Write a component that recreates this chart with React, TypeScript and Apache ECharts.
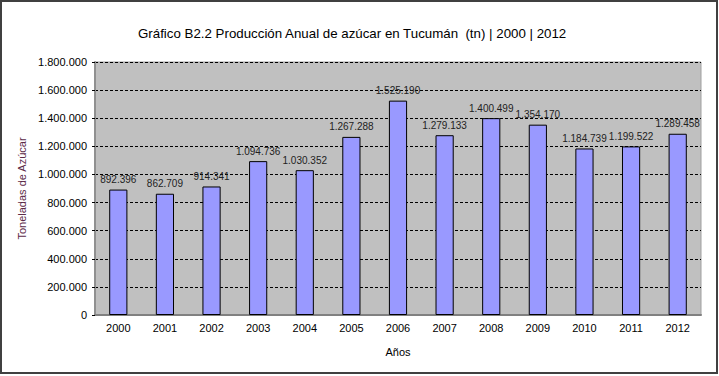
import React, { useEffect, useRef } from "react";
import * as echarts from "echarts";

const years = ["2000", "2001", "2002", "2003", "2004", "2005", "2006", "2007", "2008", "2009", "2010", "2011", "2012"];
const production = [892396, 862709, 914341, 1094736, 1030352, 1267288, 1525190, 1279133, 1400499, 1354170, 1184739, 1199522, 1289458];
const titleText = "Gráfico B2.2 Producción Anual de azúcar en Tucumán  (tn) | 2000 | 2012";
const yAxisName = "Toneladas de Azúcar";
const xAxisName = "Años";

const fmt = (v: number) => String(Math.round(v)).replace(/\B(?=(\d{3})+(?!\d))/g, ".");

export default function App() {
  const ref = useRef<HTMLDivElement>(null);
  useEffect(() => {
    document.body.style.margin = "0";
    const chart = echarts.init(ref.current!, null, { renderer: "svg" });
    chart.setOption({
      animation: false,
      backgroundColor: "#ffffff",
      textStyle: { fontFamily: "Liberation Sans, Arial, sans-serif" },
      title: {
        text: titleText,
        left: 133,
        top: 22,
        textStyle: { fontSize: 13.3, fontWeight: "normal", color: "#000000" },
      },
      graphic: [
        {
          type: "rect",
          shape: { x: 1, y: 1, width: 716, height: 372 },
          style: { fill: "none", stroke: "#404040", lineWidth: 2 },
          silent: true,
        },
      ],
      grid: { left: 95, right: 18, top: 62, bottom: 61, show: true, backgroundColor: "#c0c0c0", borderColor: "#a0a0a0", borderWidth: 1 },
      xAxis: {
        type: "category",
        data: years,
        name: xAxisName,
        nameLocation: "middle",
        nameGap: 31,
        nameTextStyle: { fontSize: 11, color: "#000000" },
        axisLine: { show: true, lineStyle: { color: "#808080", width: 2 } },
        axisTick: { show: false },
        axisLabel: { fontSize: 11, color: "#000000", margin: 7 },
      },
      yAxis: {
        type: "value",
        min: 0,
        max: 1800000,
        interval: 200000,
        name: yAxisName,
        nameLocation: "middle",
        nameGap: 68,
        nameTextStyle: { fontSize: 11, color: "#5c2a48" },
        axisLine: { show: true, lineStyle: { color: "#909090", width: 2 } },
        axisTick: { show: true, length: 3, inside: false, lineStyle: { color: "#000000" } },
        axisLabel: { fontSize: 11, color: "#000000", margin: 8, formatter: (v: number) => fmt(v) },
        splitLine: { show: true, lineStyle: { color: "#000000", type: [3, 2], width: 1 } },
      },
      series: [
        {
          type: "bar",
          data: production,
          barWidth: "39%",
          itemStyle: { color: "#9999ff", borderColor: "#000000", borderWidth: 1 },
          label: {
            show: true,
            position: "top",
            distance: 5,
            fontSize: 10,
            color: "#222222",
            formatter: (p: any) => fmt(p.value),
          },
        },
      ],
    });
    return () => chart.dispose();
  }, []);
  return <div ref={ref} style={{ width: 719, height: 376 }} />;
}
